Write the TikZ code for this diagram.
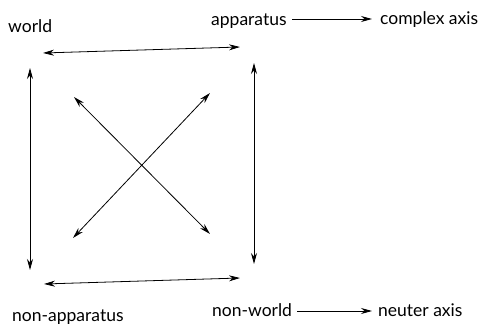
\documentclass[tikz,border=0pt]{standalone}
\usepackage{fontspec}
\setmainfont{Lato}
\usetikzlibrary{arrows.meta}
\begin{document}
\begin{tikzpicture}[x=1pt,y=-1pt,
  lbl/.style={anchor=base west,inner sep=0pt,font=\fontsize{17.5}{20}\selectfont},
  dbl/.style={line width=0.8pt,{Stealth[length=11pt,width=6pt]}-{Stealth[length=11pt,width=6pt]}},
  sgl/.style={line width=0.8pt,-{Stealth[length=11pt,width=6pt]}}]
\useasboundingbox (0,0) rectangle (485,328);
\node[lbl] (world) at (8,33) {world};
\node[lbl] (app) at (211,26) {apparatus};
\node[lbl] (cax) at (380,25) {complex axis};
\node[lbl] (napp) at (12,322) {non-apparatus};
\node[lbl] (nw) at (212,317) {non-world};
\node[lbl] (nax) at (378,317) {neuter axis};
\coordinate (ta) at (292,19); \coordinate (tb) at (372,19);
\coordinate (ba) at (297,311); \coordinate (bb) at (372,311);
\draw[sgl] (ta) -- (tb);
\draw[sgl] (ba) -- (bb);
\coordinate (h1a) at (43,53); \coordinate (h1b) at (240,47);
\coordinate (h2a) at (44,284); \coordinate (h2b) at (240,278);
\coordinate (v1a) at (30,68); \coordinate (v1b) at (30,270);
\coordinate (v2a) at (254,63); \coordinate (v2b) at (254,264);
\coordinate (d1a) at (74,97); \coordinate (d1b) at (210,234);
\coordinate (d2a) at (210,93); \coordinate (d2b) at (73,238);
\draw[dbl] (h1a) -- (h1b);
\draw[dbl] (h2a) -- (h2b);
\draw[dbl] (v1a) -- (v1b);
\draw[dbl] (v2a) -- (v2b);
\draw[dbl] (d1a) -- (d1b);
\draw[dbl] (d2a) -- (d2b);
\end{tikzpicture}
\end{document}
